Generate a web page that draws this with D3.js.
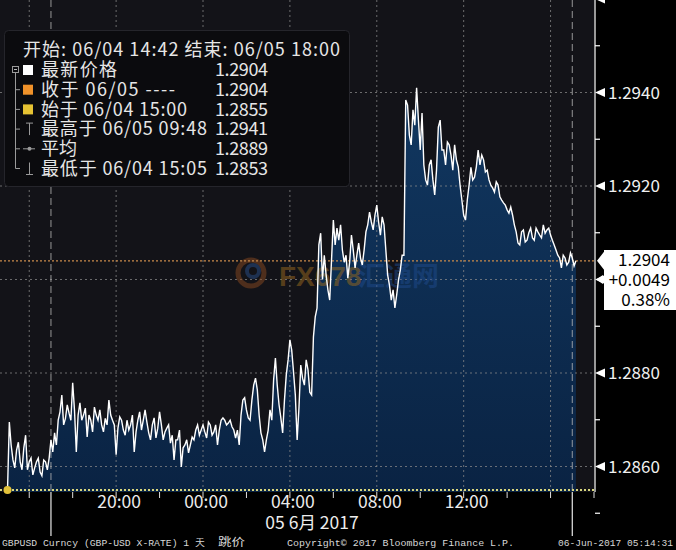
<!DOCTYPE html>
<html><head><meta charset="utf-8">
<script src="https://cdn.jsdelivr.net/npm/d3@7"></script>
<style>html,body{margin:0;padding:0;background:#000;}svg{display:block}</style>
</head><body><svg id="c" width="676" height="550"></svg>
<script>
// ---------- data ----------
const rangeStart = "2017-06-04T14:42";
const rangeEnd = "2017-06-05T18:00";
const seriesStart = "2017-06-04T15:00";
const stepMinutes = 5;
const prices = [
 1.28550,1.28695,1.28646,1.28614,1.28597,1.28635,1.28652,1.28610,1.28593,1.28640,
 1.28667,1.28593,1.28610,1.28618,1.28582,1.28597,1.28610,1.28618,1.28588,1.28580,
 1.28614,1.28610,1.28593,1.28618,1.28657,1.28631,1.28672,1.28646,1.28699,1.28717,
 1.28753,1.28689,1.28703,1.28732,1.28714,1.28699,1.28779,1.28721,1.28631,1.28710,
 1.28736,1.28699,1.28710,1.28725,1.28663,1.28710,1.28699,1.28674,1.28727,1.28710,
 1.28699,1.28721,1.28689,1.28674,1.28703,1.28689,1.28742,1.28710,1.28699,1.28689,
 1.28625,1.28682,1.28706,1.28699,1.28678,1.28667,1.28699,1.28678,1.28689,1.28710,
 1.28631,1.28674,1.28699,1.28717,1.28678,1.28699,1.28721,1.28695,1.28672,1.28657,
 1.28689,1.28704,1.28661,1.28682,1.28717,1.28689,1.28657,1.28674,1.28682,1.28689,
 1.28650,1.28667,1.28614,1.28657,1.28657,1.28678,1.28599,1.28640,1.28646,1.28657,
 1.28629,1.28646,1.28663,1.28657,1.28678,1.28689,1.28667,1.28678,1.28689,1.28674,
 1.28661,1.28695,1.28689,1.28667,1.28674,1.28689,1.28646,1.28678,1.28699,1.28704,
 1.28699,1.28689,1.28693,1.28699,1.28685,1.28678,1.28661,1.28678,1.28646,1.28710,
 1.28742,1.28747,1.28721,1.28704,1.28699,1.28742,1.28774,1.28789,1.28764,1.28710,
 1.28672,1.28657,1.28631,1.28657,1.28678,1.28721,1.28699,1.28785,1.28832,1.28774,
 1.28732,1.28704,1.28672,1.28742,1.28796,1.28828,1.28871,1.28849,1.28802,1.28753,
 1.28657,1.28725,1.28817,1.28789,1.28774,1.28828,1.28807,1.28759,1.28753,1.28877,
 1.28920,1.28939,1.29074,1.29099,1.29000,1.29052,1.29010,1.28978,1.28956,1.29042,
 1.29127,1.29074,1.29110,1.29084,1.29117,1.29063,1.29037,1.29052,1.29003,1.29037,
 1.29095,1.29063,1.29025,1.29052,1.29078,1.29046,1.29031,1.29063,1.29102,1.29117,
 1.29144,1.29123,1.29106,1.29138,1.29159,1.29123,1.29095,1.29134,1.29117,1.29063,
 1.29010,1.28988,1.28956,1.28978,1.28939,1.28967,1.28999,1.29020,1.29052,1.29052,
 1.29384,1.29373,1.29309,1.29288,1.29363,1.29330,1.29410,1.29341,1.29277,1.29356,
 1.29245,1.29213,1.29202,1.29245,1.29256,1.29213,1.29181,1.29234,1.29326,1.29341,
 1.29277,1.29277,1.29245,1.29294,1.29288,1.29266,1.29234,1.29288,1.29256,1.29241,
 1.29202,1.29170,1.29138,1.29127,1.29170,1.29202,1.29240,1.29213,1.29219,1.29241,
 1.29277,1.29245,1.29266,1.29256,1.29230,1.29234,1.29213,1.29202,1.29196,1.29187,
 1.29209,1.29202,1.29177,1.29170,1.29164,1.29159,1.29149,1.29142,1.29155,1.29138,
 1.29117,1.29102,1.29078,1.29074,1.29102,1.29106,1.29080,1.29084,1.29100,1.29110,
 1.29089,1.29084,1.29110,1.29102,1.29095,1.29089,1.29117,1.29099,1.29106,1.29110,
 1.29095,1.29084,1.29074,1.29063,1.29052,1.29046,1.29025,1.29052,1.29046,1.29031,
 1.29037,1.29057,1.29046,1.29029,
 1.29040
];
const yMajorTicks = [1.2860, 1.2880, 1.2900, 1.2920, 1.2940, 1.2960];
const yMinorTicks = [1.2850, 1.2870, 1.2890, 1.2910, 1.2930, 1.2950];
const xGridTimes = ["2017-06-04T16:00","2017-06-04T20:00","2017-06-05T00:00","2017-06-05T04:00","2017-06-05T08:00","2017-06-05T12:00","2017-06-05T16:00"];
const xTickTimes = ["2017-06-04T16:00","2017-06-04T18:00","2017-06-04T20:00","2017-06-04T22:00","2017-06-05T00:00","2017-06-05T02:00","2017-06-05T04:00","2017-06-05T06:00","2017-06-05T08:00","2017-06-05T10:00","2017-06-05T12:00","2017-06-05T14:00","2017-06-05T16:00","2017-06-05T18:00"];
const xLabelTimes = ["2017-06-04T20:00","2017-06-05T00:00","2017-06-05T04:00","2017-06-05T08:00","2017-06-05T12:00"];
const xLabels = ["20:00","00:00","04:00","08:00","12:00"];
const dayBreaks = ["2017-06-04T17:00","2017-06-05T17:00"];
const dateLabel = "05 6月 2017";
const legendTitle = "开始: 06/04 14:42 结束: 06/05 18:00";
const legendLabels = ["最新价格","收于 06/05 ----","始于 06/04 15:00","最高于 06/05 09:48","平均","最低于 06/04 15:05"];
const legendValues = ["1.2904","1.2904","1.2855","1.2941","1.2889","1.2853"];
const closeValue = 1.2904;
const startValue = 1.2855;
const footerTexts = ["GBPUSD Curncy (GBP-USD X-RATE) 1 天", "跳价", "Copyright© 2017 Bloomberg Finance L.P.", "06-Jun-2017 05:14:31"];

// ---------- setup ----------
const parse = d3.timeParse("%Y-%m-%dT%H:%M");
const t0 = parse(seriesStart);
const data = prices.map((v, i) => ({ t: d3.timeMinute.offset(t0, i * stepMinutes), v }));

const W = 676, H = 550;
const plot = { left: 0, right: 594, top: 0, bottom: 492 };
const x = d3.scaleTime().domain([parse(rangeStart), parse(rangeEnd)]).range([1, 594]);
const y = d3.scaleLinear().domain([1.2860, 1.2940]).range([466.5, 92.5]);

const svg = d3.select("#c");
const CJK = "'Noto Sans CJK SC','Noto Sans',sans-serif";
svg.append("rect").attr("width", W).attr("height", H).attr("fill", "#000");

const defs = svg.append("defs");
defs.append("clipPath").attr("id", "clip").append("rect")
  .attr("x", plot.left).attr("y", plot.top).attr("width", plot.right - plot.left).attr("height", plot.bottom - plot.top);
const grad = defs.append("linearGradient").attr("id", "ag").attr("gradientUnits", "userSpaceOnUse")
  .attr("x1", 0).attr("x2", 0).attr("y1", 90).attr("y2", 492);
grad.append("stop").attr("offset", 0).attr("stop-color", "#113760");
grad.append("stop").attr("offset", 1).attr("stop-color", "#0a2343");

// plot background
svg.append("rect").attr("x", plot.left).attr("y", plot.top).attr("width", plot.right - plot.left)
  .attr("height", plot.bottom - plot.top).attr("fill", "#131318");

const g = svg.append("g").attr("clip-path", "url(#clip)");

// area
g.append("path").datum(data)
  .attr("d", d3.area().x(d => x(d.t)).y0(plot.bottom).y1(d => y(d.v)))
  .attr("fill", "url(#ag)");

// grid
g.selectAll(".hg").data(yMajorTicks).join("line")
  .attr("x1", 0).attr("x2", plot.right).attr("y1", d => y(d)).attr("y2", d => y(d))
  .attr("stroke", "#8a8a8a").attr("stroke-width", 1).attr("stroke-dasharray", "2,3").attr("opacity", 0.75);
g.selectAll(".vg").data(xGridTimes.map(parse)).join("line")
  .attr("x1", d => x(d)).attr("x2", d => x(d)).attr("y1", 0).attr("y2", plot.bottom)
  .attr("stroke", "#8a8a8a").attr("stroke-width", 1).attr("stroke-dasharray", "2,3").attr("opacity", 0.75);
g.selectAll(".db").data(dayBreaks.map(parse)).join("line")
  .attr("x1", d => x(d)).attr("x2", d => x(d)).attr("y1", 0).attr("y2", plot.bottom)
  .attr("stroke", "#b8b8b8").attr("stroke-width", 1).attr("stroke-dasharray", "7,4").attr("opacity", 0.8);

// watermark
const wm = g.append("g").attr("opacity", 0.5);
wm.append("circle").attr("cx", 251).attr("cy", 273).attr("r", 13).attr("fill", "none")
  .attr("stroke", "#8a4a20").attr("stroke-width", 5);
wm.append("circle").attr("cx", 253).attr("cy", 271).attr("r", 6).attr("fill", "none")
  .attr("stroke", "#2a4f8a").attr("stroke-width", 4);
wm.append("text").attr("x", 279).attr("y", 286).text("FX678")
  .attr("font-family", "'Liberation Sans',Arial,sans-serif").attr("font-weight", "bold").attr("font-size", 28)
  .attr("fill", "#9a6a1e");
wm.append("text").attr("x", 358).attr("y", 286).text("汇通网")
  .attr("font-family", CJK).attr("font-weight", "bold").attr("font-size", 27)
  .attr("fill", "#1e4a8c");

// reference lines (start & close)
g.append("line").attr("x1", 0).attr("x2", plot.right).attr("y1", y(closeValue)).attr("y2", y(closeValue))
  .attr("stroke", "#c98a4a").attr("stroke-width", 1.2).attr("stroke-dasharray", "2,2");
g.append("line").attr("x1", 0).attr("x2", plot.right).attr("y1", y(startValue)).attr("y2", y(startValue))
  .attr("stroke", "#d8d67e").attr("stroke-width", 2).attr("stroke-dasharray", "2,2");

// price line
g.append("path").datum(data)
  .attr("d", d3.line().x(d => x(d.t)).y(d => y(d.v)))
  .attr("fill", "none").attr("stroke", "#fff").attr("stroke-width", 1.4);

// start dot
svg.append("circle").attr("cx", x(data[0].t)).attr("cy", y(startValue)).attr("r", 4).attr("fill", "#e3c23a");

// ---------- right axis ----------
svg.append("line").attr("x1", 595).attr("x2", 595).attr("y1", 0).attr("y2", plot.bottom)
  .attr("stroke", "#fff").attr("stroke-width", 1.2);
svg.selectAll(".mt").data(yMinorTicks).join("line")
  .attr("x1", 595).attr("x2", 600).attr("y1", d => y(d)).attr("y2", d => y(d))
  .attr("stroke", "#fff").attr("stroke-width", 1.2);
svg.selectAll(".tri").data(yMajorTicks).join("path")
  .attr("d", d => `M595,${y(d)} L605,${y(d) - 4.5} L605,${y(d) + 4.5} Z`).attr("fill", "#fff");
const yAxis = d3.axisRight(y).tickValues(yMajorTicks.filter(v => v !== 1.2960 && v !== 1.2900))
  .tickFormat(d3.format(".4f")).tickSize(0).tickPadding(0);
const ya = svg.append("g").attr("transform", "translate(608,0)").call(yAxis);
ya.select(".domain").remove();
ya.selectAll("text").attr("font-family", CJK).attr("font-size", 17).attr("fill", "#f0f0f0").attr("dy", "0.35em");

// price tag
const tagY = y(closeValue);
svg.append("path").attr("d", `M597,${tagY} L604,${tagY - 9} L604,250 L676,250 L676,310 L604,310 L604,${tagY + 9} Z`)
  .attr("fill", "#fff");
svg.append("path").attr("d", `M596,${y(1.29)} L603,${y(1.29) - 4.5} L603,${y(1.29) + 4.5} Z`).attr("fill", "#fff");
const last = prices[prices.length - 1], first = prices[0];
const tagLines = [d3.format(".4f")(closeValue), "+" + d3.format(".4f")(last - first), d3.format(".2f")((last - first) / first * 100) + "%"];
svg.selectAll(".tag").data(tagLines).join("text")
  .attr("x", 670).attr("y", (d, i) => 260 + i * 20).attr("dy", "0.35em").attr("text-anchor", "end")
  .attr("font-family", CJK).attr("font-size", 17).attr("fill", "#000").text(d => d);

// ---------- bottom axis ----------
svg.selectAll(".xt").data(xTickTimes.map(parse)).join("line")
  .attr("x1", d => x(d)).attr("x2", d => x(d)).attr("y1", 492).attr("y2", 498)
  .attr("stroke", "#ddd").attr("stroke-width", 1);
svg.selectAll(".dbl").data(dayBreaks.map(parse)).join("line")
  .attr("x1", d => x(d)).attr("x2", d => x(d)).attr("y1", 492).attr("y2", 536)
  .attr("stroke", "#e8e8e8").attr("stroke-width", 1.2);
svg.selectAll(".xl").data(xLabelTimes.map(parse)).join("text")
  .attr("x", d => x(d) + 3).attr("y", 502).attr("dy", "0.35em").attr("text-anchor", "middle")
  .attr("font-family", CJK).attr("font-size", 17.5).attr("fill", "#ececec").text((d, i) => xLabels[i]);
svg.append("text").attr("x", 312).attr("y", 523).attr("dy", "0.35em").attr("text-anchor", "middle")
  .attr("font-family", CJK).attr("font-size", 17.5).attr("fill", "#ececec").text(dateLabel);

// footer
const footX = [2, 218, 287, 558], footW = [203, 27, 227, 115], footSize = [9.8, 11, 9.8, 9.6];
svg.selectAll(".ft").data(footerTexts).join("text")
  .attr("x", (d, i) => footX[i]).attr("y", 545.5)
  .attr("font-family", (d, i) => i === 1 ? CJK : "'Liberation Mono',monospace").attr("font-size", (d, i) => footSize[i])
  .attr("fill", "#d8d8d8").attr("textLength", (d, i) => footW[i]).attr("lengthAdjust", "spacingAndGlyphs")
  .text(d => d);

// ---------- legend ----------
const lg = svg.append("g");
lg.append("rect").attr("x", 4.5).attr("y", 30.5).attr("width", 345).attr("height", 156).attr("rx", 4)
  .attr("fill", "#0b0b0e").attr("stroke", "#25252b");
lg.append("text").attr("x", 23).attr("y", 50).attr("dy", "0.35em").attr("font-family", CJK)
  .attr("font-size", 18).attr("fill", "#e6e6e6").attr("textLength", 317).attr("lengthAdjust", "spacing")
  .text(legendTitle);
const labelWidths = [76, 134, 146, 166, 36, 166];
const rowY = i => 70 + i * 19.7;
lg.append("line").attr("x1", 15.5).attr("x2", 15.5).attr("y1", rowY(0) + 3).attr("y2", rowY(5))
  .attr("stroke", "#9a9a9a");
legendLabels.forEach((lab, i) => {
  const ry = rowY(i);
  if (i > 0) lg.append("line").attr("x1", 15.5).attr("x2", 20).attr("y1", ry).attr("y2", ry).attr("stroke", "#9a9a9a");
  lg.append("text").attr("x", 41).attr("y", ry).attr("dy", "0.35em").attr("font-family", CJK)
    .attr("font-size", 18).attr("fill", "#e6e6e6").attr("textLength", labelWidths[i]).attr("lengthAdjust", "spacing")
    .text(lab);
  lg.append("text").attr("x", 215).attr("y", ry).attr("dy", "0.35em").attr("font-family", CJK)
    .attr("font-size", 18).attr("fill", "#e6e6e6").attr("textLength", 53).attr("lengthAdjust", "spacing")
    .text(legendValues[i]);
});
// row icons
lg.append("rect").attr("x", 12.5).attr("y", rowY(0) - 3.5).attr("width", 6).attr("height", 6)
  .attr("fill", "#0b0b0e").attr("stroke", "#9a9a9a");
lg.append("line").attr("x1", 14).attr("x2", 17).attr("y1", rowY(0) - 0.5).attr("y2", rowY(0) - 0.5).attr("stroke", "#bbb");
const swatches = ["#ffffff", "#f0922a", "#e6c233"];
swatches.forEach((c, i) => lg.append("rect").attr("x", 23).attr("y", rowY(i) - 5).attr("width", 10).attr("height", 10).attr("fill", c));
lg.append("path").attr("d", `M29.5,${rowY(3) - 6} V${rowY(3) + 6} M26,${rowY(3) - 6} H33`).attr("stroke", "#9a9a9a").attr("fill", "none");
lg.append("path").attr("d", `M23,${rowY(4)} H35`).attr("stroke", "#9a9a9a");
lg.append("circle").attr("cx", 29.5).attr("cy", rowY(4)).attr("r", 2).attr("fill", "#9a9a9a");
lg.append("path").attr("d", `M29.5,${rowY(5) - 6} V${rowY(5) + 6} M26,${rowY(5) + 6} H33`).attr("stroke", "#9a9a9a").attr("fill", "none");
</script></body></html>
